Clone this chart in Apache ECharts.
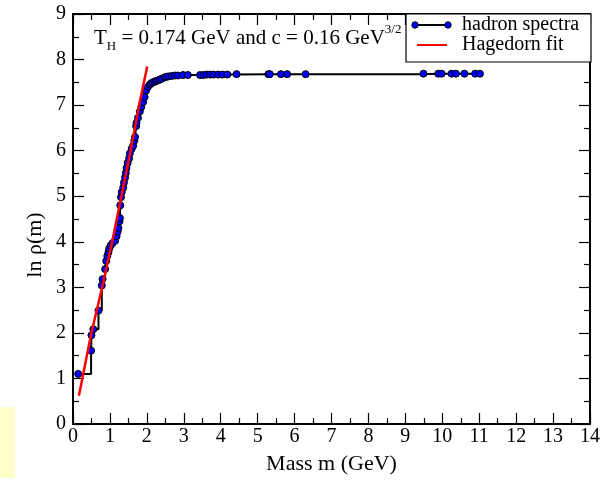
<!DOCTYPE html>
<html><head><meta charset="utf-8">
<script src="https://cdn.jsdelivr.net/npm/echarts@6/dist/echarts.min.js"></script>
<style>html,body{margin:0;padding:0;background:#fff}#c{width:605px;height:480px}</style>
</head><body><div id="c"></div>
<script>
// Hadron spectrum (cumulative, ln N) : mass in GeV
const hadronMass = [0.14,0.49,0.50,0.55,0.69,0.78,0.80,0.87,0.90,0.93,0.96,0.98,1.02,1.07,1.14,1.18,1.21,1.23,1.26,1.27,1.28,1.30,1.32,1.36,1.38,1.41,1.43,1.45,1.48,1.52,1.54,1.59,1.63,1.66,1.68,1.71,1.72,1.76,1.81,1.85,1.90,1.94,1.98,2.03,2.08,2.12,2.16,2.20,2.25,2.30,2.35,2.40,2.48,2.53,2.58,2.67,2.76,2.84,2.98,3.11,3.44,3.53,3.62,3.71,3.80,3.93,4.05,4.18,4.43,5.29,5.33,5.63,5.80,6.30,9.49,9.89,9.98,10.25,10.37,10.60,10.89,11.02];
const hadronLnRho = [1.10,1.61,1.95,2.08,2.49,3.04,3.18,3.40,3.58,3.69,3.77,3.85,3.92,3.97,4.02,4.12,4.22,4.30,4.45,4.52,4.80,4.98,5.09,5.19,5.30,5.41,5.51,5.62,5.73,5.83,5.94,6.04,6.11,6.22,6.30,6.54,6.61,6.72,6.86,6.96,7.07,7.18,7.32,7.40,7.45,7.48,7.50,7.51,7.53,7.54,7.56,7.58,7.61,7.62,7.63,7.64,7.65,7.65,7.66,7.66,7.66,7.66,7.67,7.67,7.67,7.67,7.67,7.67,7.68,7.68,7.68,7.68,7.68,7.68,7.69,7.69,7.69,7.69,7.69,7.69,7.69,7.69];
// Hagedorn fit
const fitMass = [0.16,0.49,0.79,1.06,1.31,1.56,1.79,2.01];
const fitLnRho = [0.62,1.97,3.00,4.00,5.00,6.00,7.00,7.85];
const xTicks = {min:0,max:14,interval:1};
const yTicks = {min:0,max:9,interval:1};

const F = 'Liberation Serif';
const chart = echarts.init(document.getElementById('c'));
const axisCommon = {
  axisLine:{show:true,onZero:false,lineStyle:{color:'#000',width:2}},
  axisTick:{show:true,inside:true,length:11,lineStyle:{color:'#000',width:1.2}},
  minorTick:{show:true,splitNumber:2,length:6,lineStyle:{color:'#000',width:1.2}},
  splitLine:{show:false}
};
chart.setOption({
  animation:false,
  grid:{left:73,right:15,top:14,bottom:42},
  xAxis:[
    Object.assign({type:'value',position:'bottom',min:xTicks.min,max:xTicks.max,interval:xTicks.interval,
      name:'Mass m (GeV)',nameLocation:'middle',nameGap:29,
      nameTextStyle:{fontFamily:F,fontSize:22,color:'#000'},
      axisLabel:{fontFamily:F,fontSize:20,color:'#000',margin:3}},axisCommon),
    Object.assign({type:'value',position:'top',min:xTicks.min,max:xTicks.max,interval:xTicks.interval,
      axisLabel:{show:false}},axisCommon)
  ],
  yAxis:[
    Object.assign({type:'value',position:'left',min:yTicks.min,max:yTicks.max,interval:yTicks.interval,
      axisLabel:{fontFamily:F,fontSize:20,color:'#000',margin:7}},axisCommon),
    Object.assign({type:'value',position:'right',min:yTicks.min,max:yTicks.max,interval:yTicks.interval,
      axisLabel:{show:false}},axisCommon)
  ],
  series:[
    {type:'line',name:'hadron spectra',step:'end',xAxisIndex:0,yAxisIndex:0,
      data:hadronMass.map((m,i)=>[m,hadronLnRho[i]]),
      symbol:'circle',symbolSize:7,showAllSymbol:true,
      itemStyle:{color:'#0000ff',borderColor:'#000',borderWidth:1},
      lineStyle:{color:'#000',width:2},z:2},
    {type:'line',name:'Hagedorn fit',xAxisIndex:0,yAxisIndex:0,
      data:fitMass.map((m,i)=>[m,fitLnRho[i]]),
      symbol:'none',smooth:false,lineStyle:{color:'#ff0000',width:2.5},z:3}
  ],
  graphic:[
    {type:'rect',left:0,top:407,shape:{width:15,height:71},style:{fill:'#ffffcc'}},
    {type:'text',x:35,y:245,rotation:Math.PI/2,
      style:{text:'ln ρ(m)',font:'22px "Liberation Serif"',fill:'#000',textAlign:'center',textVerticalAlign:'middle'}},
    {type:'text',x:94,y:38,
      style:{text:'{a|T}{s|H}{a| = 0.174 GeV and c = 0.16 GeV}{p|3/2}',textVerticalAlign:'middle',
        rich:{a:{fontFamily:F,fontSize:21,lineHeight:30,fill:'#000',verticalAlign:'middle'},
              s:{fontFamily:F,fontSize:13,lineHeight:13,fill:'#000',verticalAlign:'bottom'},
              p:{fontFamily:F,fontSize:13,lineHeight:13,fill:'#000',verticalAlign:'top'}}}},
    {type:'rect',shape:{x:406,y:14,width:185,height:48},style:{fill:'#fff',stroke:'#000',lineWidth:1.2},z:10},
    {type:'line',shape:{x1:415,y1:25,x2:448,y2:25},style:{stroke:'#000',lineWidth:2},z:11},
    {type:'circle',shape:{cx:415,cy:25,r:3.2},style:{fill:'#0000ff',stroke:'#000',lineWidth:1},z:12},
    {type:'circle',shape:{cx:448,cy:25,r:3.2},style:{fill:'#0000ff',stroke:'#000',lineWidth:1},z:12},
    {type:'text',x:462,y:25,style:{text:'hadron spectra',font:'20px "Liberation Serif"',fill:'#000',textVerticalAlign:'middle'},z:11},
    {type:'line',shape:{x1:417,y1:45,x2:447,y2:45},style:{stroke:'#ff0000',lineWidth:2},z:11},
    {type:'text',x:462,y:45,style:{text:'Hagedorn fit',font:'20px "Liberation Serif"',fill:'#000',textVerticalAlign:'middle'},z:11}
  ]
});
</script></body></html>
